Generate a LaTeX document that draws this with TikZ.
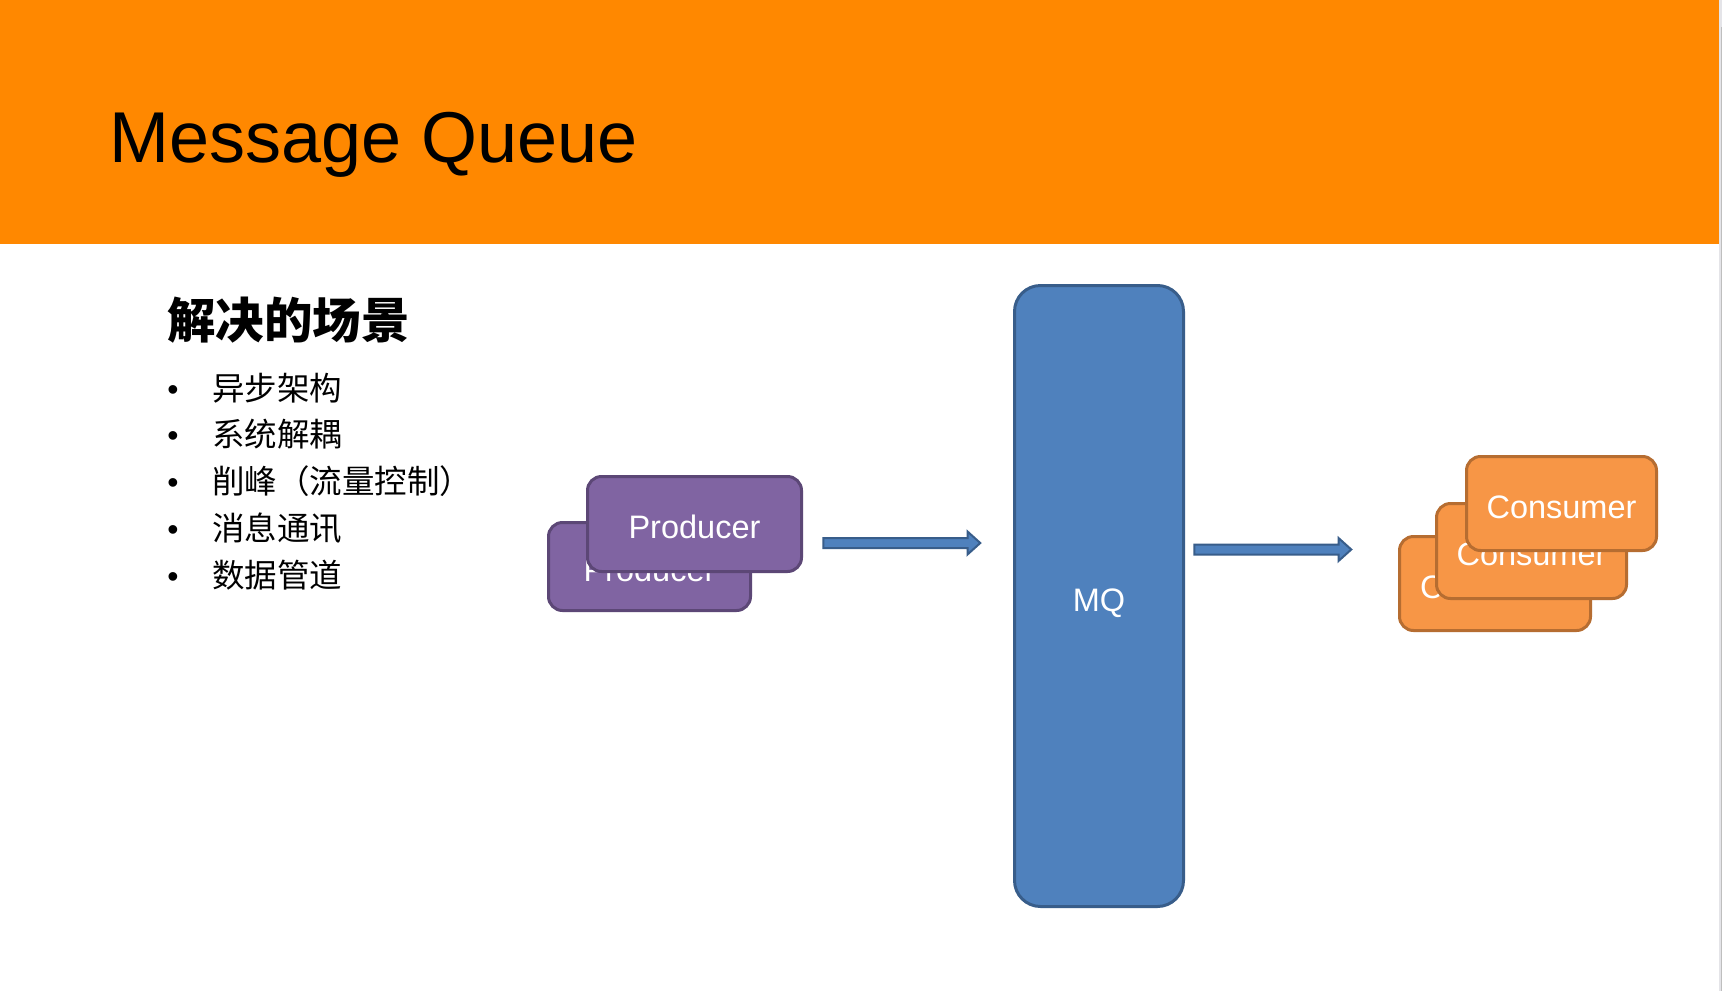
\documentclass[tikz,border=0pt]{standalone}
\usepackage{fontspec}
\setmainfont{Liberation Sans}
\newfontfamily\cjk{Noto Sans CJK SC}
\usetikzlibrary{shapes.arrows}
\definecolor{hdr}{HTML}{FF8800}
\definecolor{purpfill}{HTML}{8064A2}
\definecolor{purpline}{HTML}{5C4776}
\definecolor{bluefill}{HTML}{4F81BD}
\definecolor{blueline}{HTML}{385D8A}
\definecolor{orfill}{HTML}{F79646}
\definecolor{orline}{HTML}{B66D31}
\definecolor{edgelight}{HTML}{E4E4E8}
\definecolor{edgedark}{HTML}{BEBEBE}
\begin{document}
\begin{tikzpicture}[x=1pt,y=-1pt,
  box/.style={rectangle, rounded corners=14pt, line width=3pt, inner sep=0pt,
    text=white, font=\fontsize{32.5}{38}\selectfont, text height=29.5pt, text depth=0pt},
  prodbox/.style={box, fill=purpfill, draw=purpline},
  consbox/.style={box, fill=orfill, draw=orline},
  mqbox/.style={box, rounded corners=26pt, fill=bluefill, draw=blueline, text height=30.5pt},
  blockarrow/.style={single arrow, fill=bluefill, draw=blueline, line width=2pt,
    inner xsep=0pt, inner ysep=4pt, single arrow head extend=6.5pt,
    single arrow tip angle=84, minimum width=21pt},
  bullettext/.style={anchor=base west, inner sep=0pt, font=\cjk\fontsize{32.5}{38}\selectfont},
  dot/.style={anchor=base, inner sep=0pt, font=\fontsize{32}{38}\selectfont}]
\useasboundingbox (0,0) rectangle (1722,991);
\fill[white] (0,0) rectangle (1722,991);
% header
\fill[hdr] (0,0) rectangle (1719,244);
\fill[edgelight] (1719,0) rectangle (1722,991);
\fill[edgedark] (1720.5,27) rectangle (1722,991);
\node[anchor=base west, inner sep=0pt, font=\fontsize{72}{86}\selectfont] (title) at (109,162) {Message Queue};
% left text
\node[anchor=base west, inner sep=0pt, font=\cjk\bfseries\fontsize{48.5}{56}\selectfont] (heading) at (167,338) {解决的场景};
\node[dot] (d1) at (173,400) {•};
\node[bullettext] (b1) at (212,400) {异步架构};
\node[dot] (d2) at (173,446.8) {•};
\node[bullettext] (b2) at (212,446.8) {系统解耦};
\node[dot] (d3) at (173,493.6) {•};
\node[bullettext] (b3) at (212,493.6) {削峰（流量控制）};
\node[dot] (d4) at (173,540.4) {•};
\node[bullettext] (b4) at (212,540.4) {消息通讯};
\node[dot] (d5) at (173,587.2) {•};
\node[bullettext] (b5) at (212,587.2) {数据管道};
% producers
\node[prodbox, minimum width=202pt, minimum height=88pt] (p2) at (649.5,566.5) {Producer};
\node[prodbox, minimum width=214pt, minimum height=95pt] (p1) at (694.5,524) {Producer};
% MQ
\node[mqbox, minimum width=169pt, minimum height=621pt] (mq) at (1099,596) {MQ};
% consumers
\node[consbox, minimum width=191pt, minimum height=94pt] (c3) at (1495,583.5) {Consumer};
\node[consbox, minimum width=190pt, minimum height=95pt] (c2) at (1531.5,551) {Consumer};
\node[consbox, minimum width=190pt, minimum height=94pt] (c1) at (1561.5,503.5) {Consumer};
% arrows
\node[blockarrow, minimum height=157pt] (a1) at (899,543) {};
\node[blockarrow, minimum height=157pt] (a2) at (1270,549.5) {};
\end{tikzpicture}
\end{document}
